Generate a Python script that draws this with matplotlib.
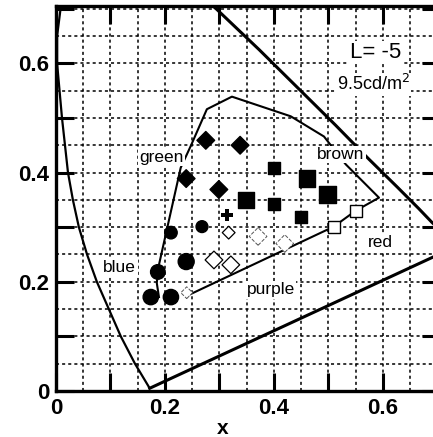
import numpy as np
import matplotlib.pyplot as plt

plt.rcParams['font.family'] = ['Liberation Sans', 'DejaVu Sans']

# spectrum locus (left branch), right branch and purple line
left_x = [0.172, 0.145, 0.119, 0.097, 0.075, 0.057, 0.042, 0.031, 0.022, 0.011, 0.002, 0.002, 0.009, 0.016]
left_y = [0.005, 0.05, 0.10, 0.15, 0.20, 0.25, 0.30, 0.35, 0.40, 0.50, 0.60, 0.65, 0.705, 0.75]
right_x = [0.26, 0.295, 0.373, 0.444, 0.513, 0.575, 0.627, 0.666, 0.690, 0.71]
right_y = [0.73, 0.699, 0.625, 0.555, 0.487, 0.424, 0.373, 0.334, 0.309, 0.29]
purple_x = [0.172, 0.735]
purple_y = [0.005, 0.265]

# inner boundary
bound_x = [0.189, 0.185, 0.189, 0.229, 0.248, 0.277, 0.323, 0.431, 0.492, 0.532, 0.593, 0.550, 0.510, 0.244]
bound_y = [0.172, 0.198, 0.231, 0.409, 0.450, 0.516, 0.539, 0.503, 0.466, 0.415, 0.354, 0.330, 0.301, 0.176]

# filled circles
circ_x = [0.174, 0.211, 0.187, 0.239, 0.211, 0.268]
circ_y = [0.172, 0.172, 0.218, 0.237, 0.290, 0.301]
circ_s = [11, 11, 10.5, 11.5, 9, 8.5]

# filled diamonds
dia_x = [0.275, 0.338, 0.239, 0.299]
dia_y = [0.459, 0.450, 0.389, 0.369]
dia_s = [9, 9, 9, 9]

# filled squares
sq_x = [0.400, 0.461, 0.499, 0.349, 0.400, 0.450]
sq_y = [0.409, 0.389, 0.360, 0.350, 0.343, 0.319]
sq_s = [8.5, 12, 12.5, 12, 8.5, 8.5]

# plus
plus_x = [0.314]
plus_y = [0.323]

# open squares
osq_x = [0.510, 0.550]
osq_y = [0.301, 0.330]

# open diamonds
odia_x = [0.317, 0.290, 0.321]
odia_y = [0.290, 0.240, 0.231]
odia_s = [6.5, 9, 9]

# faint open diamonds
fdia_x = [0.371, 0.420, 0.240]
fdia_y = [0.283, 0.270, 0.180]
fdia_s = [9, 9, 6]

labels = ['green', 'brown', 'red', 'blue', 'purple']
lab_x = [0.194, 0.523, 0.596, 0.117, 0.394]
lab_y = [0.428, 0.433, 0.272, 0.226, 0.185]

ticks = [0, 0.1, 0.2, 0.3, 0.4, 0.5, 0.6, 0.7]
tick_labels = ['0', '', '0.2', '', '0.4', '', '0.6', '']

fig = plt.figure(figsize=(4.33, 4.37), dpi=100)
ax = fig.add_axes([56 / 433, 46 / 437, 384 / 433, 385 / 437])

ax.plot(left_x, left_y, color='black', lw=1.6, zorder=3)
ax.plot(right_x, right_y, color='black', lw=2.2, zorder=3)
ax.plot(purple_x, purple_y, color='black', lw=2.2, zorder=3)
ax.plot(bound_x, bound_y, color='black', lw=1.5, zorder=3)

ax.scatter(circ_x, circ_y, s=np.array(circ_s) ** 2, marker='o', color='black', zorder=4)
ax.scatter(dia_x, dia_y, s=np.array(dia_s) ** 2, marker='D', color='black', zorder=4)
ax.scatter(sq_x, sq_y, s=np.array(sq_s) ** 2, marker='s', color='black', zorder=4)
ax.scatter(plus_x, plus_y, s=70, marker='P', color='black', lw=0, zorder=4)
ax.scatter(osq_x, osq_y, s=80, marker='s', facecolor='white', edgecolor='black', lw=1.0, zorder=5)
ax.scatter(odia_x, odia_y, s=np.array(odia_s) ** 2, marker='D', facecolor='white',
           edgecolor='black', lw=0.9, zorder=4)
ax.scatter(fdia_x, fdia_y, s=np.array(fdia_s) ** 2, marker='D', facecolor='white',
           edgecolor='#555555', lw=0.7, linestyle='--', zorder=4)

for t, x, y in zip(labels, lab_x, lab_y):
    ax.text(x, y, t, fontsize=12.5, ha='center', va='center', zorder=6,
            bbox=dict(facecolor='white', edgecolor='none', pad=1))

ax.text(0.587, 0.620, 'L= -5', fontsize=16, ha='center', va='center', zorder=6,
        bbox=dict(facecolor='white', edgecolor='none', pad=1))
ax.text(0.582, 0.562, '9.5cd/m$^2$', fontsize=13, ha='center', va='center', zorder=6,
        bbox=dict(facecolor='white', edgecolor='none', pad=1))

ax.set_xlim(0, 0.705)
ax.set_ylim(0, 0.705)
ax.set_xticks(ticks)
ax.set_xticklabels(tick_labels)
ax.set_yticks(ticks)
ax.set_yticklabels(tick_labels)
ax.set_xticks(np.arange(0.05, 0.7, 0.1), minor=True)
ax.set_yticks(np.arange(0.05, 0.7, 0.1), minor=True)
ax.tick_params(which='major', direction='in', length=13, width=2.2, top=True, right=True,
               labelsize=16, pad=5)
ax.tick_params(which='minor', length=0)
for lab in ax.get_xticklabels() + ax.get_yticklabels():
    lab.set_fontweight('bold')
ax.grid(True, which='both', color='black', lw=1.1, linestyle=(0, (2, 2)))
ax.set_axisbelow(True)
for sp in ax.spines.values():
    sp.set_linewidth(2.4)

ax.set_xlabel('x', fontsize=15, fontweight='bold')
ax.xaxis.set_label_coords(0.435, -0.072)

fig.savefig('out.png', dpi=100)
